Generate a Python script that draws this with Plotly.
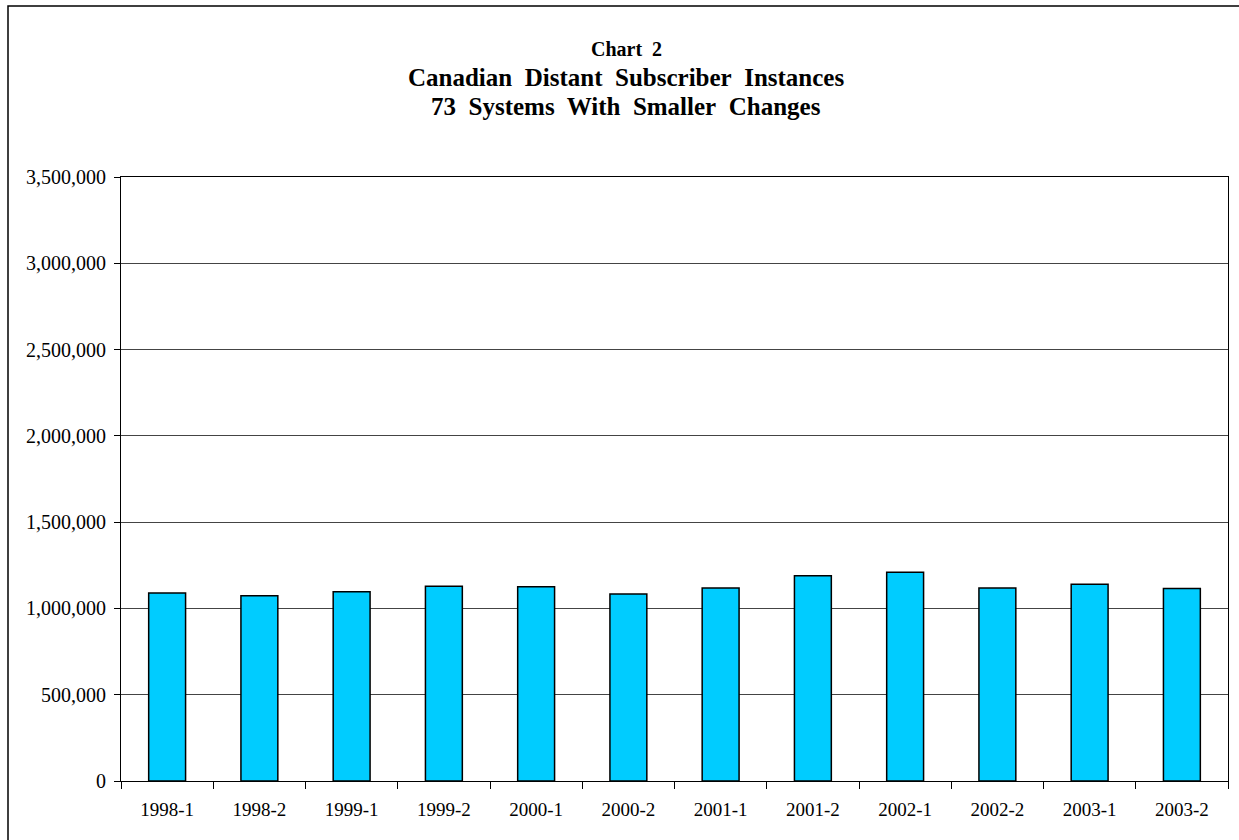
"""Chart 2: Canadian distant subscriber instances, 73 systems with smaller changes."""

import plotly.graph_objects as go

periods = [
    "1998-1", "1998-2", "1999-1", "1999-2", "2000-1", "2000-2",
    "2001-1", "2001-2", "2002-1", "2002-2", "2003-1", "2003-2",
]
instances = [
    1089000, 1074000, 1097000, 1128000, 1126000, 1083000,
    1118000, 1189000, 1209000, 1118000, 1140000, 1116000,
]
y_ticks = [0, 500000, 1000000, 1500000, 2000000, 2500000, 3000000, 3500000]

GAP = "\u00a0 "  # double spaces as in the original title
title_lines = [
    ("Chart" + GAP + "2", 20, 49),
    (GAP.join(["Canadian", "Distant", "Subscriber", "Instances"]), 25, 77),
    (GAP.join(["73", "Systems", "With", "Smaller", "Changes"]), 25, 107),
]

# plot area in pixels (used to place things outside it in paper coords)
W, H = 1239, 840
L, R, T, B = 121, 1228, 177, 781


def px_x(x):
    return (x - L) / (R - L)


def px_y(y):
    return (B - y) / (B - T)


fig = go.Figure()
fig.add_trace(
    go.Bar(
        x=periods,
        y=instances,
        marker=dict(color="#00CCFF", line=dict(color="black", width=1.5)),
    )
)

font = "Liberation Serif, Times New Roman, serif"

for text, size, ypix in title_lines:
    fig.add_annotation(
        text="<b>" + text + "</b>",
        xref="paper",
        yref="paper",
        x=px_x(626),
        y=px_y(ypix),
        xanchor="center",
        yanchor="middle",
        showarrow=False,
        font=dict(family=font, size=size, color="black"),
    )

# outer chart border (only left/top visible in the picture)
fig.add_shape(
    type="rect",
    xref="paper",
    yref="paper",
    x0=px_x(8),
    y0=px_y(900),
    x1=px_x(1300),
    y1=px_y(6),
    line=dict(color="black", width=1.5),
    layer="above",
)

fig.update_layout(
    width=W,
    height=H,
    margin=dict(l=L, r=W - R, t=T, b=H - B),
    paper_bgcolor="white",
    plot_bgcolor="white",
    showlegend=False,
    bargap=0.6,
    font=dict(family=font, size=19, color="black"),
)
fig.update_xaxes(
    type="category",
    tickson="boundaries",
    ticks="outside",
    ticklen=7,
    tickcolor="black",
    ticklabelstandoff=11,
    tickfont=dict(size=19),
    showline=True,
    linecolor="black",
    linewidth=1,
    mirror=True,
    showgrid=False,
)
fig.update_yaxes(
    range=[0, 3500000],
    tickvals=y_ticks,
    tickformat=",d",
    ticks="outside",
    ticklen=6,
    tickcolor="black",
    ticklabelstandoff=4,
    tickfont=dict(size=20),
    showline=True,
    linecolor="black",
    linewidth=1,
    mirror=True,
    showgrid=True,
    gridcolor="#444444",
    gridwidth=1,
    zeroline=False,
)

fig.write_html(
    "out.html",
    config={"displayModeBar": False},
    post_script="document.body.style.margin='0px';",
)
